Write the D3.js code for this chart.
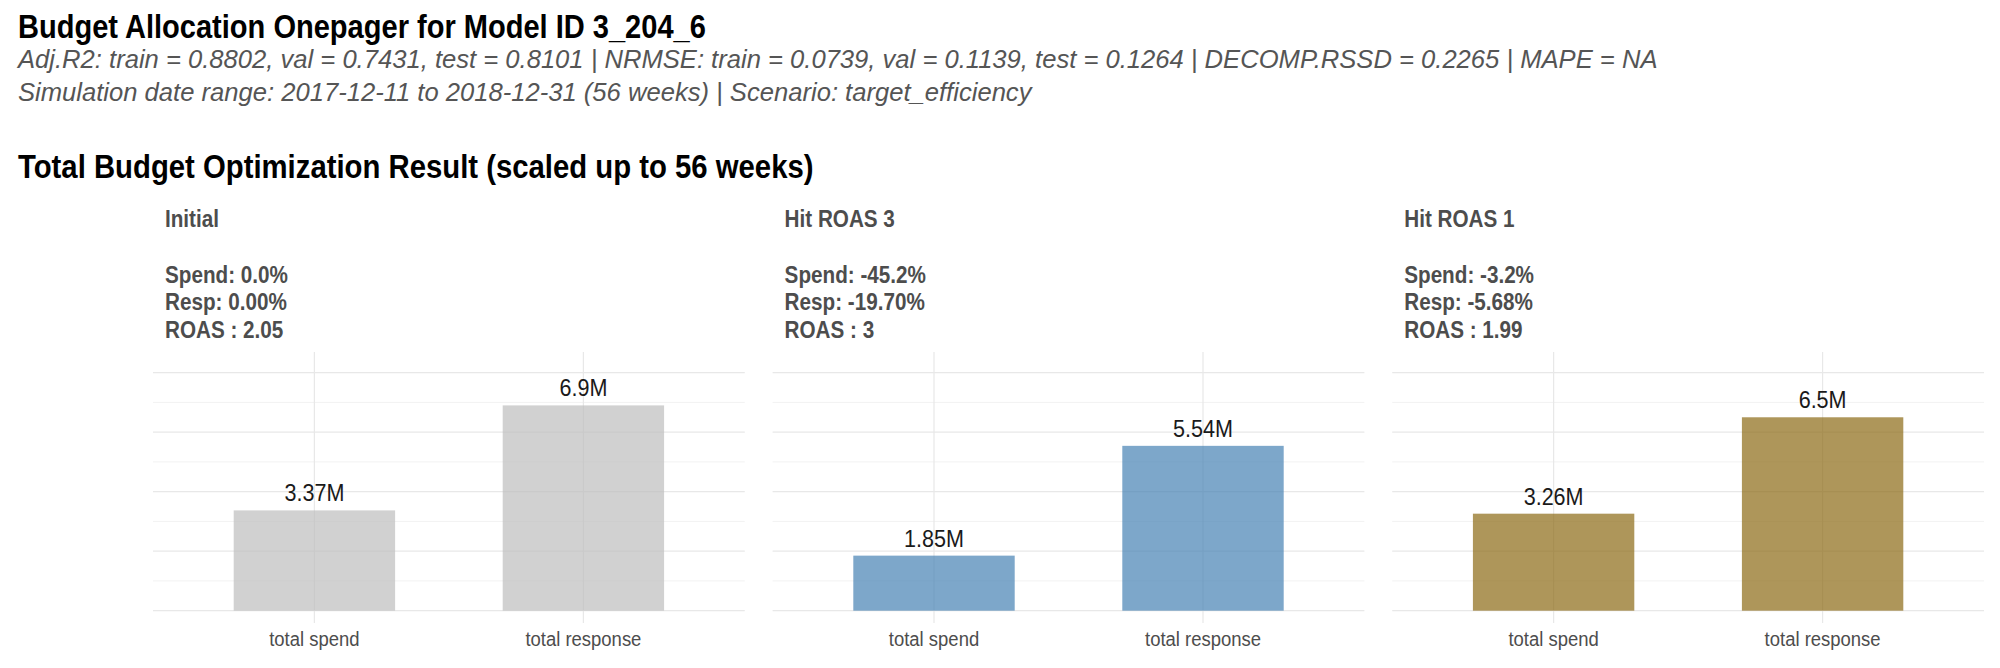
<!DOCTYPE html>
<html>
<head>
<meta charset="utf-8">
<script src="https://cdn.jsdelivr.net/npm/d3@7"></script>
<style>
  html, body { margin: 0; padding: 0; background: #fff; }
  svg { display: block; }
  text { font-family: "Liberation Sans", Arial, Helvetica, sans-serif; }
</style>
</head>
<body>
<svg id="chart" width="2000" height="668"></svg>
<script>
// ---- data ----
const scenarios = ["Initial", "Hit ROAS 3", "Hit ROAS 1"];
const categories = ["total spend", "total response"];
const totalSpend = [3.37, 1.85, 3.26];        // millions
const totalResponse = [6.9, 5.54, 6.5];       // millions
const spendLabels = ["3.37M", "1.85M", "3.26M"];
const responseLabels = ["6.9M", "5.54M", "6.5M"];
const spendChange = ["0.0%", "-45.2%", "-3.2%"];
const respChange = ["0.00%", "-19.70%", "-5.68%"];
const roas = ["2.05", "3", "1.99"];
const barColors = ["#bebebe", "#4682b4", "#8b6914"];

const titleText = "Budget Allocation Onepager for Model ID 3_204_6";
const subtitleLines = [
  "Adj.R2: train = 0.8802, val = 0.7431, test = 0.8101 | NRMSE: train = 0.0739, val = 0.1139, test = 0.1264 | DECOMP.RSSD = 0.2265 | MAPE = NA",
  "Simulation date range: 2017-12-11 to 2018-12-31 (56 weeks) | Scenario: target_efficiency"
];
const sectionTitle = "Total Budget Optimization Result (scaled up to 56 weeks)";

// ---- layout ----
const NARROW = 0.88; // horizontal squeeze to mimic a narrow font
const svg = d3.select("#chart");
const panelTop = 352, panelBottom = 623;

function narrowText(sel, x, y) {
  return sel.attr("transform", `translate(${x},${y}) scale(${NARROW},1)`);
}

const panelScale = d3.scaleBand()
  .domain(scenarios)
  .range([153, 1984])
  .paddingInner(0.0449)
  .paddingOuter(0);

const yMax = d3.max(totalResponse) * 1.2;
const pad = yMax * 0.05;
const y = d3.scaleLinear().domain([-pad, yMax + pad]).range([panelBottom, panelTop]);

const majorTicks = y.ticks(5);
const minorTicks = y.ticks(10).filter(t => !majorTicks.includes(t));

// headers
narrowText(svg.append("text"), 18, 37.5)
  .attr("font-size", 33).attr("font-weight", "bold").attr("fill", "#000")
  .text(titleText);
subtitleLines.forEach((s, i) => {
  svg.append("text").attr("x", 18).attr("y", 67.5 + i * 33)
    .attr("font-size", 25.6).attr("font-style", "italic").attr("fill", "#555")
    .text(s);
});
narrowText(svg.append("text"), 18, 177.5)
  .attr("font-size", 33.3).attr("font-weight", "bold").attr("fill", "#000")
  .text(sectionTitle);

scenarios.forEach((sc, i) => {
  const x0 = panelScale(sc);
  const w = panelScale.bandwidth();
  const g = svg.append("g").attr("transform", `translate(${x0},0)`);
  const x = d3.scalePoint().domain(categories).range([0, w]).padding(0.6);
  const barW = x.step() * 0.6;

  // minor grid
  g.selectAll("line.minor").data(minorTicks).join("line")
    .attr("x1", 0).attr("x2", w)
    .attr("y1", d => y(d)).attr("y2", d => y(d))
    .attr("stroke", "#f2f2f2").attr("stroke-width", 1);
  // major grid
  g.selectAll("line.major").data(majorTicks).join("line")
    .attr("x1", 0).attr("x2", w)
    .attr("y1", d => y(d)).attr("y2", d => y(d))
    .attr("stroke", "#e8e8e8").attr("stroke-width", 1.2);
  // vertical grid
  g.selectAll("line.vg").data(categories).join("line")
    .attr("x1", d => x(d)).attr("x2", d => x(d))
    .attr("y1", panelTop).attr("y2", panelBottom)
    .attr("stroke", "#e8e8e8").attr("stroke-width", 1.2);

  const vals = [totalSpend[i], totalResponse[i]];
  const labs = [spendLabels[i], responseLabels[i]];

  g.selectAll("rect.bar").data(categories).join("rect")
    .attr("x", d => x(d) - barW / 2)
    .attr("width", barW)
    .attr("y", (d, j) => y(vals[j]))
    .attr("height", (d, j) => y(0) - y(vals[j]))
    .attr("fill", barColors[i]).attr("fill-opacity", 0.7);

  g.selectAll("text.val").data(categories).join("text")
    .attr("transform", (d, j) => `translate(${x(d)},${y(vals[j]) - 9}) scale(${NARROW},1)`)
    .attr("text-anchor", "middle")
    .attr("font-size", 24.5).attr("fill", "#1a1a1a")
    .text((d, j) => labs[j]);

  g.selectAll("text.cat").data(categories).join("text")
    .attr("transform", d => `translate(${x(d)},646) scale(${NARROW},1)`)
    .attr("text-anchor", "middle")
    .attr("font-size", 21).attr("fill", "#4d4d4d")
    .text(d => d);

  // strip title
  const strip = [sc, "", "Spend: " + spendChange[i], "Resp: " + respChange[i], "ROAS : " + roas[i]];
  g.selectAll("text.strip").data(strip).join("text")
    .attr("transform", (d, k) => `translate(12,${227 + k * 27.8}) scale(${NARROW},1)`)
    .attr("font-size", 23.5).attr("font-weight", "bold").attr("fill", "#4d4d4d")
    .text(d => d);
});
</script>
</body>
</html>
